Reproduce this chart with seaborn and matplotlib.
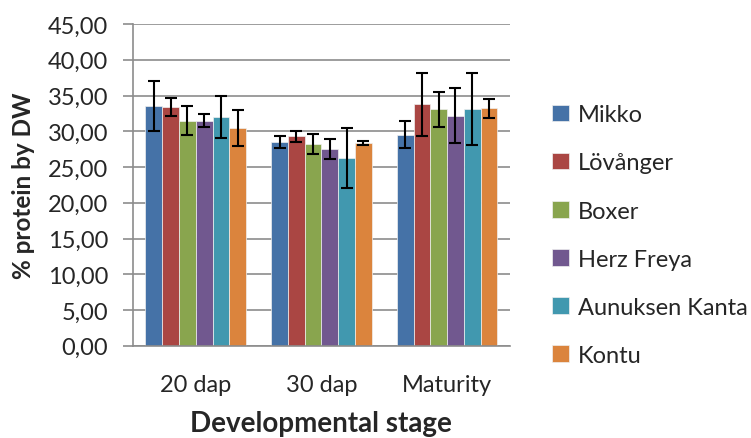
import numpy as np
import pandas as pd
import seaborn as sns
import matplotlib.pyplot as plt
import matplotlib.ticker as ticker

stages = ["20 dap", "30 dap", "Maturity"]
varieties = ["Mikko", "Lövånger", "Boxer", "Herz Freya", "Aunuksen Kanta", "Kontu"]

# mean % protein per variety, one value per stage
mikko = [33.6, 28.5, 29.5]
lovanger = [33.4, 29.3, 33.8]
boxer = [31.5, 28.2, 33.1]
herz = [31.5, 27.5, 32.2]
aunuksen = [32.0, 26.2, 33.1]
kontu = [30.5, 28.4, 33.2]

# error bar half lengths
mikko_err = [3.5, 0.8, 1.9]
lovanger_err = [1.3, 0.75, 4.4]
boxer_err = [2.0, 1.4, 2.45]
herz_err = [0.85, 1.4, 3.9]
aunuksen_err = [2.9, 4.2, 5.0]
kontu_err = [2.5, 0.3, 1.35]

colors = ["#4572A7", "#AA4643", "#89A54E", "#71588F", "#4198AF", "#DB843D"]

means = [mikko, lovanger, boxer, herz, aunuksen, kontu]
errs = [mikko_err, lovanger_err, boxer_err, herz_err, aunuksen_err, kontu_err]

rows = []
for v, m, e in zip(varieties, means, errs):
    for s, mv, ev in zip(stages, m, e):
        rows.append({"stage": s, "variety": v, "protein": mv, "err": ev})
df = pd.DataFrame(rows)

sns.set_style("white")
plt.rcParams["font.family"] = ["Lato", "DejaVu Sans"]

fig = plt.figure(figsize=(7.51, 4.39), dpi=100)
ax = fig.add_axes([0.177, 0.21, 0.502, 0.733])

sns.barplot(data=df, x="stage", y="protein", hue="variety", order=stages,
            hue_order=varieties, palette=colors, saturation=1, errorbar=None,
            width=0.8, edgecolor="#f0f0f0", linewidth=0.5, ax=ax, zorder=2)

# error bars on each bar
for cont, v in zip(ax.containers, varieties):
    sub = df[df["variety"] == v].set_index("stage").loc[stages]
    xs = [p.get_x() + p.get_width() / 2 for p in cont.patches]
    hs = [p.get_height() for p in cont.patches]
    ax.errorbar(xs, hs, yerr=sub["err"].values, fmt="none", ecolor="black",
                elinewidth=1.5, capsize=4.5, capthick=1.5, zorder=3)

ax.set_ylim(0, 45)
ax.set_xlim(-0.5, 2.5)
ax.yaxis.set_major_locator(ticker.MultipleLocator(5))
ax.yaxis.set_major_formatter(ticker.FuncFormatter(lambda v, p: f"{v:.2f}".replace(".", ",")))
ax.grid(axis="y", color="#8c8c8c", linewidth=1.2, zorder=0)
ax.set_axisbelow(True)

for s in ["top", "right"]:
    ax.spines[s].set_visible(False)
for s in ["left", "bottom"]:
    ax.spines[s].set_color("#8c8c8c")
    ax.spines[s].set_linewidth(1.2)

# ticks between categories on x, outward ticks on y
ax.set_xticks([0, 1, 2])
ax.set_xticks([-0.5, 0.5, 1.5, 2.5], minor=True)
ax.tick_params(axis="x", which="major", length=0, labelsize=17, pad=20)
ax.tick_params(axis="x", which="minor", length=7, width=1.2, color="#8c8c8c", direction="out")
ax.tick_params(axis="y", length=7, width=1.2, color="#8c8c8c", direction="out",
               labelsize=17, pad=11, left=True)

ax.set_xlabel("Developmental stage", fontsize=20, fontweight="bold")
ax.set_ylabel("% protein by DW", fontsize=17.5, fontweight="bold")
ax.xaxis.set_label_coords(0.5, -0.2)
ax.yaxis.set_label_coords(-0.26, 0.5)

ax.legend(loc="center left", bbox_to_anchor=(1.087, 0.344), frameon=False,
          fontsize=17, handlelength=0.7, handleheight=0.7, handletextpad=0.4,
          labelspacing=1.15, borderaxespad=0)

fig.savefig("out.png", dpi=100)
